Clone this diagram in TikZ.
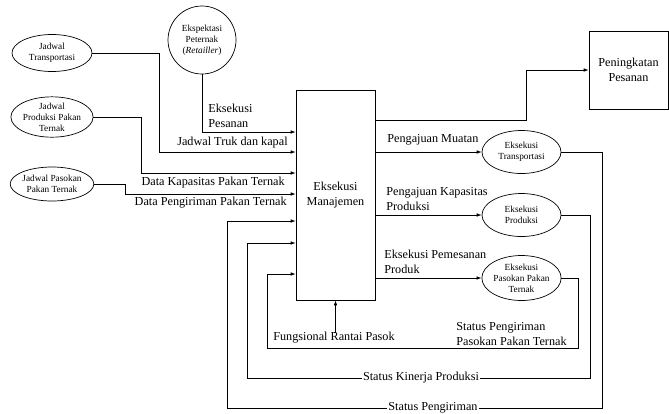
\documentclass[tikz,border=0pt]{standalone}
\usepackage{fontspec}
\setmainfont{Liberation Serif}
\usetikzlibrary{arrows.meta,shapes.geometric}
\begin{document}
\begin{tikzpicture}[x=1pt,y=-1pt,
  line width=0.7pt,
  arr/.style={-{Latex[length=5pt,width=3.6pt]}},
  small/.style={font=\fontsize{9.3}{11}\selectfont, align=center},
  lbl/.style={font=\fontsize{12.2}{15}\selectfont, inner sep=0pt},
  oval/.style={draw, ellipse, inner sep=0pt, small},
  box/.style={draw, rectangle, inner sep=0pt, align=center, font=\fontsize{12.2}{15}\selectfont}]
\useasboundingbox (0,0) rectangle (669,413);

% main boxes
\node[box, minimum width=79pt, minimum height=210pt] (man) at (335.5,195) {Eksekusi\\Manajemen};
\node[box, minimum width=79pt, minimum height=78pt] (pen) at (628.5,70) {Peningkatan\\Pesanan};

% left ovals
\node[oval, minimum width=80pt, minimum height=37pt] (jt) at (52,53) {Jadwal\\Transportasi};
\node[oval, minimum width=80pt, minimum height=40pt] (jp) at (52,117) {Jadwal\\Produksi Pakan\\Ternak};
\node[oval, minimum width=80pt, minimum height=34pt] (jps) at (52,184) {Jadwal Pasokan\\Pakan Ternak};
\node[draw, circle, minimum size=68pt, inner sep=0pt, small] (ek) at (202,40) {Ekspektasi\\Peternak\\(\textit{Retailler})};

% right ovals
\node[oval, minimum width=79pt, minimum height=43pt] (et) at (521.5,152) {Eksekusi\\Transportasi};
\node[oval, minimum width=79pt, minimum height=43pt] (ep) at (521.5,215) {Eksekusi\\Produksi};
\node[oval, minimum width=79pt, minimum height=45pt] (eps) at (521.5,278) {Eksekusi\\Pasokan Pakan\\Ternak};

% input connectors
\draw[arr] (ek.south) |- (man.west |- 0,132);
\draw[arr] (jt.east) -| (159,152) -- (man.west |- 0,152);
\draw[arr] (jp.east) -| (141,173) -- (man.west |- 0,173);
\draw[arr] (jps.east) -| (125,194) -- (man.west |- 0,194);

% input labels
\node[lbl, anchor=west, align=left] (lpes) at (208,115.5) {Eksekusi\\Pesanan};
\node[lbl, anchor=east] (ltruk) at (288,143) {Jadwal Truk dan kapal};
\node[lbl, anchor=east] (lkap) at (285,183) {Data Kapasitas Pakan Ternak};
\node[lbl, anchor=east] (lkir) at (287,203) {Data Pengiriman Pakan Ternak};

% output connectors
\draw[arr] (man.east |- 0,120) -| (526,70) -- (pen.west);
\draw[arr] (man.east |- et.west) -- (et.west);
\draw[arr] (man.east |- ep.west) -- (ep.west);
\draw[arr] (man.east |- eps.west) -- (eps.west);

\node[lbl, anchor=west] (lmua) at (387,140) {Pengajuan Muatan};
\node[lbl, anchor=west, align=left] (lkp) at (386,199) {Pengajuan Kapasitas\\Produksi};
\node[lbl, anchor=west, align=left] (lpp) at (384,262) {Eksekusi Pemesanan\\Produk};

% feedback loops
\coordinate (t1) at (602,408);
\coordinate (t2) at (227,221);
\draw[arr] (et.east) -| (t1) -| (t2) -- (man.west |- t2);
\coordinate (p1) at (590,378);
\coordinate (p2) at (247,243);
\draw[arr] (ep.east) -| (p1) -| (p2) -- (man.west |- p2);
\coordinate (s1) at (578,348);
\coordinate (s2) at (267,274);
\draw[arr] (eps.east) -| (s1) -| (s2) -- (man.west |- s2);

\node[lbl, fill=white, inner xsep=1pt] (lskp) at (421,378) {Status Kinerja Produksi};
\node[lbl, fill=white, inner xsep=1pt] (lsp) at (433,408) {Status Pengiriman};
\node[lbl, anchor=west, align=left] (lspp) at (456,334.5) {Status Pengiriman\\Pasokan Pakan Ternak};

% fungsional
\node[lbl, anchor=north] (lfr) at (334,332) {Fungsional Rantai Pasok};
\draw[arr] (lfr.north) -- (man.south |- lfr.north) -- (man.south);
\end{tikzpicture}
\end{document}
